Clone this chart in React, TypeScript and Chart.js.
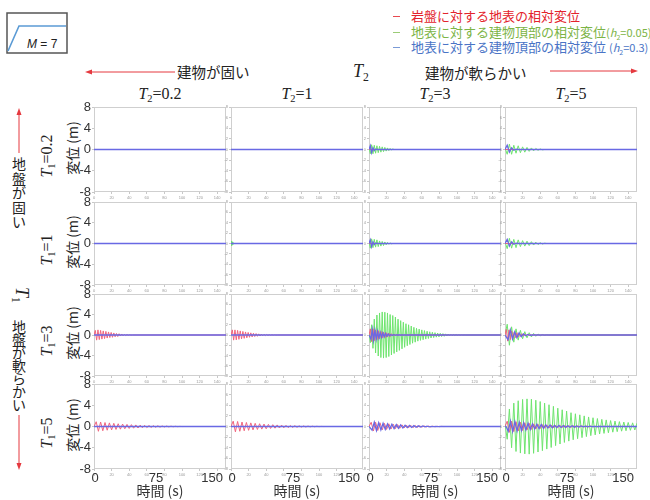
import React, { useEffect, useRef } from "react";
import { Chart, registerables } from "chart.js";

Chart.register(...registerables);

// ---------------- DATA ----------------
const X_MAX = 150;
const Y_MIN = -8;
const Y_MAX = 8;
const T1_VALUES = ["0.2", "1", "3", "5"]; // rows
const T2_VALUES = ["0.2", "1", "3", "5"]; // columns
const X_BIG_TICKS = [0, 75, 150];
const X_TITLE = "時間 (s)";
const Y_TITLE = "変位 (m)";
const LEGEND_LABELS = ["岩盤に対する地表の相対変位", "地表に対する建物頂部の相対変位", "地表に対する建物頂部の相対変位 "];
const LEGEND_H2 = ["", "0.05", "0.3"];
const SIDE_TOP = "地盤が固い";
const SIDE_BOTTOM = "地盤が軟らかい";

// Successive signed peaks (half-period apart).
const G_13 = [0.3, -0.8, 0.9, -0.8, 0.8, -0.7, 0.7, -0.6, 0.6, -0.5, 0.5, -0.4, 0.4, -0.3, 0.3, -0.2, 0.2, -0.1, 0.1, 0];
const B_13 = [0, 0.7, -0.6, 0.3, -0.2, 0.1, 0];
const G_14 = [0.3, -0.9, 1.0, -0.9, 0.8, -0.7, 0.7, -0.6, 0.5, -0.5, 0.4, -0.35, 0.3, -0.25, 0.2, -0.15, 0.1, -0.05, 0];
const B_14 = [0, 0.8, -0.5, 0.3, -0.15, 0.05, 0];
const G_22 = [0, 0.5, -0.4, 0.3, -0.2, 0.1, 0];
const G_23 = [0.3, -0.9, 0.9, -0.8, 0.8, -0.7, 0.7, -0.6, 0.5, -0.5, 0.4, -0.4, 0.3, -0.25, 0.2, -0.15, 0.1, -0.05, 0];
const B_23 = [0, 0.7, -0.6, 0.3, -0.2, 0.1, 0];
const G_24 = [0.3, -1.0, 1.0, -0.9, 0.8, -0.8, 0.7, -0.6, 0.55, -0.5, 0.45, -0.4, 0.35, -0.3, 0.25, -0.2, 0.15, -0.1, 0.05, 0];
const B_24 = [0, 0.8, -0.5, 0.3, -0.15, 0.05, 0];
const R_31 = [0, 0.9, -1.0, 1.0, -0.9, 0.9, -0.8, 0.8, -0.7, 0.7, -0.6, 0.6, -0.5, 0.5, -0.45, 0.4, -0.35, 0.3, -0.3, 0.25, -0.2, 0.2, -0.15, 0.12, -0.1, 0.08, -0.06, 0.04, -0.02, 0];
const R_32 = [0, 1.0, -1.0, 1.0, -0.95, 0.9, -0.85, 0.8, -0.75, 0.7, -0.65, 0.6, -0.55, 0.5, -0.45, 0.42, -0.38, 0.35, -0.3, 0.28, -0.25, 0.22, -0.2, 0.18, -0.15, 0.13, -0.11, 0.1, -0.08, 0.06, -0.05, 0.04, -0.03, 0.02, -0.01, 0];
const G_33 = [0.5, -1.5, 2.0, -2.6, 3.1, -3.5, 3.9, -4.1, 4.3, -4.4, 4.5, -4.5, 4.45, -4.4, 4.3, -4.2, 4.0, -3.9, 3.8, -3.6, 3.5, -3.3, 3.1, -3.0, 2.8, -2.7, 2.5, -2.4, 2.2, -2.1, 2.0, -1.85, 1.75, -1.6, 1.5, -1.4, 1.3, -1.2, 1.15, -1.05, 1.0, -0.92, 0.86, -0.8, 0.74, -0.68, 0.63, -0.58, 0.54, -0.5, 0.46, -0.42, 0.39, -0.36, 0.33, -0.3, 0.27, -0.25, 0.22, -0.2, 0.18, -0.16, 0.14, -0.12, 0.1, -0.09, 0.08, -0.06, 0.05, -0.04, 0.03, -0.02, 0.01, 0];
const R_33 = [0, 1.2, -1.3, 1.2, -1.1, 1.0, -0.9, 0.85, -0.75, 0.7, -0.6, 0.55, -0.5, 0.45, -0.4, 0.35, -0.3, 0.25, -0.2, 0.18, -0.15, 0.12, -0.1, 0.08, -0.06, 0.04, -0.02, 0];
const B_33 = [0, -0.8, 1.1, -1.0, 0.9, -0.8, 0.7, -0.6, 0.5, -0.45, 0.4, -0.35, 0.3, -0.25, 0.2, -0.15, 0.1, -0.08, 0.05, -0.03, 0];
const G_34 = [0, 2.1, -2.0, 1.6, -1.4, 1.2, -1.0, 0.9, -0.75, 0.65, -0.55, 0.45, -0.38, 0.3, -0.25, 0.2, -0.15, 0.1, -0.07, 0.04, -0.02, 0];
const R_34 = [0, 1.1, -1.2, 1.0, -0.9, 0.8, -0.7, 0.6, -0.5, 0.45, -0.4, 0.35, -0.3, 0.25, -0.2, 0.15, -0.1, 0.08, -0.05, 0.03, 0];
const B_34 = [0, -0.9, 1.0, -0.8, 0.6, -0.5, 0.4, -0.3, 0.2, -0.15, 0.1, -0.05, 0];
const R_41 = [0, 0.9, -0.9, 0.85, -0.8, 0.75, -0.7, 0.68, -0.64, 0.6, -0.56, 0.52, -0.5, 0.46, -0.43, 0.4, -0.37, 0.35, -0.32, 0.3, -0.28, 0.26, -0.24, 0.22, -0.2, 0.18, -0.17, 0.15, -0.14, 0.13, -0.12, 0.1, -0.09, 0.08, -0.07, 0.06, -0.05, 0.04, -0.03, 0.02, -0.01, 0];
const R_42 = [0, 1.0, -1.0, 0.95, -0.9, 0.85, -0.8, 0.76, -0.72, 0.68, -0.64, 0.6, -0.56, 0.52, -0.49, 0.46, -0.43, 0.4, -0.37, 0.34, -0.32, 0.3, -0.28, 0.26, -0.24, 0.22, -0.2, 0.18, -0.17, 0.15, -0.14, 0.12, -0.11, 0.1, -0.09, 0.08, -0.07, 0.06, -0.05, 0.04, -0.03, 0.02, -0.01, 0];
const R_43 = [0, 0.8, -0.85, 0.8, -0.75, 0.7, -0.65, 0.6, -0.56, 0.52, -0.48, 0.44, -0.4, 0.37, -0.34, 0.31, -0.28, 0.26, -0.24, 0.22, -0.2, 0.18, -0.16, 0.14, -0.12, 0.11, -0.1, 0.08, -0.07, 0.06, -0.05, 0.04, -0.03, 0.02, -0.01, 0];
const B_43 = [0, -0.7, 0.8, -0.75, 0.7, -0.65, 0.6, -0.55, 0.5, -0.46, 0.42, -0.38, 0.35, -0.32, 0.29, -0.26, 0.24, -0.22, 0.2, -0.18, 0.16, -0.14, 0.12, -0.1, 0.09, -0.08, 0.06, -0.05, 0.04, -0.03, 0.02, -0.01, 0];
const G_44 = [0.5, -2.4, 3.3, -4.0, 4.4, -4.7, 4.85, -5.0, 5.1, -5.15, 5.2, -5.2, 5.15, -5.05, 4.95, -4.8, 4.7, -4.55, 4.4, -4.25, 4.1, -3.95, 3.8, -3.6, 3.45, -3.3, 3.15, -3.0, 2.9, -2.75, 2.6, -2.5, 2.4, -2.3, 2.2, -2.1, 2.0, -1.9, 1.8, -1.72, 1.65, -1.58, 1.5, -1.42, 1.35, -1.3, 1.24, -1.18, 1.12, -1.07, 1.02, -0.97, 0.92, -0.88, 0.84, -0.8, 0.76, -0.72, 0.69, -0.66, 0.63];
const R_44 = [0, 1.0, -1.1, 1.0, -0.95, 0.9, -0.85, 0.8, -0.75, 0.7, -0.65, 0.6, -0.55, 0.5, -0.46, 0.42, -0.38, 0.35, -0.32, 0.3, -0.28, 0.26, -0.24, 0.22, -0.2, 0.19, -0.18, 0.17, -0.16, 0.15, -0.14, 0.13, -0.12, 0.11, -0.1, 0.1, -0.09, 0.09, -0.08, 0.08, -0.07, 0.07, -0.06, 0.06, -0.05, 0.05, -0.04, 0.04, -0.03, 0.03, -0.03, 0.02, -0.02, 0.02, -0.01, 0.01, -0.01, 0.01, 0];
const B_44 = [0, -0.9, 1.0, -0.95, 0.9, -0.85, 0.8, -0.75, 0.7, -0.65, 0.6, -0.55, 0.5, -0.46, 0.42, -0.38, 0.35, -0.32, 0.3, -0.28, 0.26, -0.24, 0.22, -0.2, 0.19, -0.18, 0.17, -0.16, 0.15, -0.14, 0.13, -0.12, 0.11, -0.1, 0.09, -0.08, 0.07, -0.06, 0.05, -0.04, 0.03, -0.02, 0.01, 0];

type Osc = { half: number; t0: number; peaks: number[] };
const osc = (half: number, t0: number, peaks: number[]): Osc => ({ half, t0, peaks });
type Cell = { g?: Osc; r?: Osc; b?: Osc };

const GRID: Cell[][] = [
  [{}, {}, { g: osc(1.5, 0, G_13), b: osc(1.5, 0, B_13) }, { g: osc(2.5, 0, G_14), b: osc(2.5, 0, B_14) }],
  [{}, { g: osc(0.5, 0, G_22) }, { g: osc(1.5, 0, G_23), b: osc(1.5, 0, B_23) }, { g: osc(2.5, 0, G_24), b: osc(2.5, 0, B_24) }],
  [
    { r: osc(1.5, 0, R_31) },
    { r: osc(1.5, 0, R_32) },
    { g: osc(1.5, 0, G_33), r: osc(1.5, 0, R_33), b: osc(1.5, 0.7, B_33) },
    { g: osc(2.5, 0, G_34), r: osc(1.5, 0, R_34), b: osc(2.5, 1, B_34) },
  ],
  [
    { r: osc(2.5, 0, R_41) },
    { r: osc(2.5, 0, R_42) },
    { r: osc(2.5, 0, R_43), b: osc(2.5, 1, B_43) },
    { g: osc(2.5, 0, G_44), r: osc(2.5, 0, R_44), b: osc(2.5, 1.2, B_44) },
  ],
];

// ---------------- LAYOUT / STYLE ----------------
const COL_X = [94, 231, 369, 505];
const PLOT_W = 132;
const ROW_Y = [107, 202, 294, 384];
const ROW_H = [85, 83, 82, 85];
const PAD_T = 10;
const PAD_R = 4;

const CJK = '"Noto Sans CJK JP", "Noto Sans", sans-serif';
const SERIF = '"Liberation Serif", "DejaVu Serif", serif';
const SANS = '"Liberation Sans", Arial, sans-serif';

const C_GREEN = "rgb(110,228,110)";
const C_RED = "rgb(240,100,125)";
const C_BLUE = "rgb(105,105,228)";
const LEGEND_COLORS = ["#e3232c", "#7cb446", "#4a74c6"];
const LEGEND_DASH = ["#e84a50", "#9bcc77", "#7a9ad6"];

function toPoints(s?: Osc) {
  const pts: { x: number; y: number }[] = [{ x: 0, y: 0 }];
  if (s) {
    s.peaks.forEach((y, i) => {
      const x = s.t0 + i * s.half;
      if (x === 0) pts[0] = { x: 0, y };
      else if (x <= X_MAX) pts.push({ x, y });
    });
  }
  if (pts[pts.length - 1].x < X_MAX) pts.push({ x: X_MAX, y: 0 });
  return pts;
}

const boxPlugin = {
  id: "panelBox",
  beforeDatasetsDraw(chart: any) {
    const { ctx, chartArea: a } = chart;
    ctx.save();
    ctx.strokeStyle = "#cfcfcf";
    ctx.lineWidth = 1;
    ctx.strokeRect(a.left + 0.5, a.top + 0.5, a.right - a.left - 1, a.bottom - a.top - 1);
    ctx.restore();
  },
};

const bottomLabelsPlugin = {
  id: "bottomLabels",
  afterDraw(chart: any) {
    const { ctx, chartArea: a, scales } = chart;
    const xs = scales.x;
    ctx.save();
    ctx.fillStyle = "#333";
    ctx.textBaseline = "middle";
    ctx.font = `13px ${SANS}`;
    const y = a.bottom + 9;
    X_BIG_TICKS.forEach((v, i) => {
      const px = xs.getPixelForValue(v);
      if (i === 0) {
        ctx.textAlign = "center";
        ctx.fillText(String(v), px + 1, y);
      } else if (i === X_BIG_TICKS.length - 1) {
        ctx.textAlign = "right";
        ctx.fillText(String(v), px - 3, y);
      } else {
        ctx.textAlign = "center";
        ctx.fillText(String(v), px - 4, y);
      }
    });
    ctx.font = `14px ${CJK}`;
    ctx.textAlign = "center";
    ctx.fillText(X_TITLE, (a.left + a.right) / 2, a.bottom + 22);
    ctx.restore();
  },
};

function Panel({ row, col }: { row: number; col: number }) {
  const ref = useRef<HTMLCanvasElement>(null);
  const yw = col === 0 ? 24 : 7;
  const xh = row === 3 ? 500 - (ROW_Y[3] + ROW_H[3]) : 9;
  const w = yw + PLOT_W + PAD_R;
  const h = PAD_T + ROW_H[row] + xh;
  const left = COL_X[col] - yw;
  const top = ROW_Y[row] - PAD_T;

  useEffect(() => {
    const cell = GRID[row][col];
    const mk = (pts: any, color: string, order: number, bw: number) => ({
      data: pts,
      borderColor: color,
      backgroundColor: color,
      borderWidth: bw,
      pointRadius: 0,
      fill: false,
      tension: 0,
      order,
    });
    const datasets: any[] = [];
    if (cell.g) datasets.push(mk(toPoints(cell.g), C_GREEN, 2, 1));
    datasets.push(mk(toPoints(cell.r), C_RED, 1, 1));
    datasets.push(mk(toPoints(cell.b), C_BLUE, 0, 1.3));

    const bigY = col === 0;
    const chart = new Chart(ref.current as HTMLCanvasElement, {
      type: "line",
      data: { datasets },
      options: {
        animation: false,
        responsive: false,
        devicePixelRatio: 1,
        events: [],
        layout: { padding: { top: PAD_T, right: PAD_R, left: 0, bottom: 0 } },
        plugins: { legend: { display: false }, tooltip: { enabled: false } },
        scales: {
          x: {
            type: "linear",
            min: 0,
            max: X_MAX,
            border: { display: false },
            grid: { drawOnChartArea: false, tickLength: 2, color: "#c8c8c8" },
            ticks: {
              stepSize: 20,
              includeBounds: false,
              autoSkip: false,
              maxRotation: 0,
              padding: 1,
              color: "#999",
              font: { size: 4, family: SANS },
            },
            afterFit: (s: any) => {
              s.height = xh;
            },
          },
          y: {
            type: "linear",
            min: Y_MIN,
            max: Y_MAX,
            border: { display: false },
            grid: { drawOnChartArea: false, tickLength: 2, color: "#c8c8c8" },
            ticks: bigY
              ? { stepSize: 4, padding: 1, color: "#333", font: { size: 13, family: SANS } }
              : { stepSize: 2, padding: 1, color: "#999", font: { size: 4, family: SANS } },
            afterFit: (s: any) => {
              s.width = yw;
            },
          },
        },
      } as any,
      plugins: row === 3 ? [boxPlugin, bottomLabelsPlugin] : [boxPlugin],
    });
    return () => chart.destroy();
  }, [row, col]);

  return (
    <canvas
      ref={ref}
      width={w}
      height={h}
      style={{ position: "absolute", left, top, width: w, height: h }}
    />
  );
}

function TSub({ letter, sub, rest }: { letter: string; sub: string; rest?: string }) {
  return (
    <span>
      <i>{letter}</i>
      <span style={{ fontSize: "0.65em", position: "relative", top: "0.3em" }}>{sub}</span>
      {rest}
    </span>
  );
}

function VerticalText({ text, x, top, size, step }: { text: string; x: number; top: number; size: number; step: number }) {
  return (
    <>
      {Array.from(text).map((ch, i) => (
        <div
          key={i}
          style={{
            position: "absolute",
            left: x - size / 2,
            top: top + i * step,
            width: size,
            height: step,
            fontSize: size,
            lineHeight: step + "px",
            textAlign: "center",
          }}
        >
          {ch}
        </div>
      ))}
    </>
  );
}

export default function App() {
  const rowCenters = ROW_Y.map((y, i) => y + ROW_H[i] / 2);
  const colCenters = COL_X.map((x) => x + PLOT_W / 2);
  const legendY = [16, 32, 47];
  const arrowColor = "#e5393f";

  return (
    <div
      style={{
        position: "fixed",
        left: 0,
        top: 0,
        width: 650,
        height: 500,
        background: "#fff",
        overflow: "hidden",
        fontFamily: CJK,
        color: "#222",
      }}
    >
      <svg width={650} height={500} style={{ position: "absolute", left: 0, top: 0 }}>
        <rect x={7} y={13} width={60} height={40} fill="#fff" stroke="#555" strokeWidth={1.5} />
        <polyline points="8,51 19,26 66,26" fill="none" stroke="#5b9bd5" strokeWidth={1.6} />
        <line x1={90} y1={72} x2={175} y2={72} stroke={arrowColor} strokeWidth={1} />
        <polygon points="85,72 92,69.5 92,74.5" fill={arrowColor} />
        <line x1={550} y1={71} x2={632} y2={71} stroke={arrowColor} strokeWidth={1} />
        <polygon points="638,71 631,68.5 631,73.5" fill={arrowColor} />
        <line x1={19} y1={114} x2={19} y2={153} stroke={arrowColor} strokeWidth={1} />
        <polygon points="19,108 16.5,115 21.5,115" fill={arrowColor} />
        <line x1={19} y1={415} x2={19} y2={464} stroke={arrowColor} strokeWidth={1} />
        <polygon points="19,470 16.5,463 21.5,463" fill={arrowColor} />
      </svg>

      <div style={{ position: "absolute", left: 27, top: 37, fontFamily: SANS, fontSize: 12, lineHeight: "14px", whiteSpace: "nowrap" }}>
        <i>M</i> = 7
      </div>

      {LEGEND_LABELS.map((t, i) => (
        <React.Fragment key={i}>
          <div style={{ position: "absolute", left: 393, top: legendY[i], width: 7, height: 1.3, background: LEGEND_DASH[i] }} />
          <div
            style={{
              position: "absolute",
              left: 411,
              top: legendY[i] - 9,
              fontSize: 13,
              lineHeight: "18px",
              color: LEGEND_COLORS[i],
              whiteSpace: "nowrap",
            }}
          >
            {t}
            {LEGEND_H2[i] ? (
              <span style={{ fontSize: 11 }}>
                (<i>h</i>
                <span style={{ fontSize: 7, position: "relative", top: 3 }}>2</span>={LEGEND_H2[i]})
              </span>
            ) : null}
          </div>
        </React.Fragment>
      ))}

      <div style={{ position: "absolute", left: 177, top: 62, fontSize: 14.5, lineHeight: "20px", whiteSpace: "nowrap" }}>建物が固い</div>
      <div style={{ position: "absolute", left: 425, top: 63, fontSize: 14.5, lineHeight: "20px", whiteSpace: "nowrap" }}>建物が軟らかい</div>
      <div style={{ position: "absolute", left: 353, top: 61, fontFamily: SERIF, fontSize: 18, lineHeight: "20px", whiteSpace: "nowrap" }}>
        <TSub letter="T" sub="2" />
      </div>

      {T2_VALUES.map((v, i) => (
        <div
          key={"c" + i}
          style={{
            position: "absolute",
            left: colCenters[i],
            top: 95,
            transform: "translate(-50%, -50%)",
            fontFamily: SERIF,
            fontSize: 16,
            lineHeight: "18px",
            whiteSpace: "nowrap",
          }}
        >
          <TSub letter="T" sub="2" rest={"=" + v} />
        </div>
      ))}

      {T1_VALUES.map((v, i) => (
        <React.Fragment key={"r" + i}>
          <div
            style={{
              position: "absolute",
              left: 48,
              top: rowCenters[i] + 6,
              transform: "translate(-50%, -50%) rotate(-90deg)",
              fontFamily: SERIF,
              fontSize: 16,
              lineHeight: "18px",
              whiteSpace: "nowrap",
            }}
          >
            <TSub letter="T" sub="1" rest={"=" + v} />
          </div>
          <div
            style={{
              position: "absolute",
              left: 72,
              top: rowCenters[i] - 2,
              transform: "translate(-50%, -50%) rotate(-90deg)",
              fontSize: 14,
              lineHeight: "16px",
              whiteSpace: "nowrap",
            }}
          >
            {Y_TITLE}
          </div>
        </React.Fragment>
      ))}

      <VerticalText text={SIDE_TOP} x={19} top={156} size={14} step={14.6} />
      <VerticalText text={SIDE_BOTTOM} x={19} top={320} size={14} step={13} />
      <div
        style={{
          position: "absolute",
          left: 20,
          top: 295,
          transform: "translate(-50%, -50%) rotate(90deg)",
          fontFamily: SERIF,
          fontSize: 18,
          lineHeight: "20px",
          whiteSpace: "nowrap",
        }}
      >
        <TSub letter="T" sub="1" />
      </div>

      {T1_VALUES.map((_, r) =>
        T2_VALUES.map((__, c) => <Panel key={r + "-" + c} row={r} col={c} />)
      )}
    </div>
  );
}
